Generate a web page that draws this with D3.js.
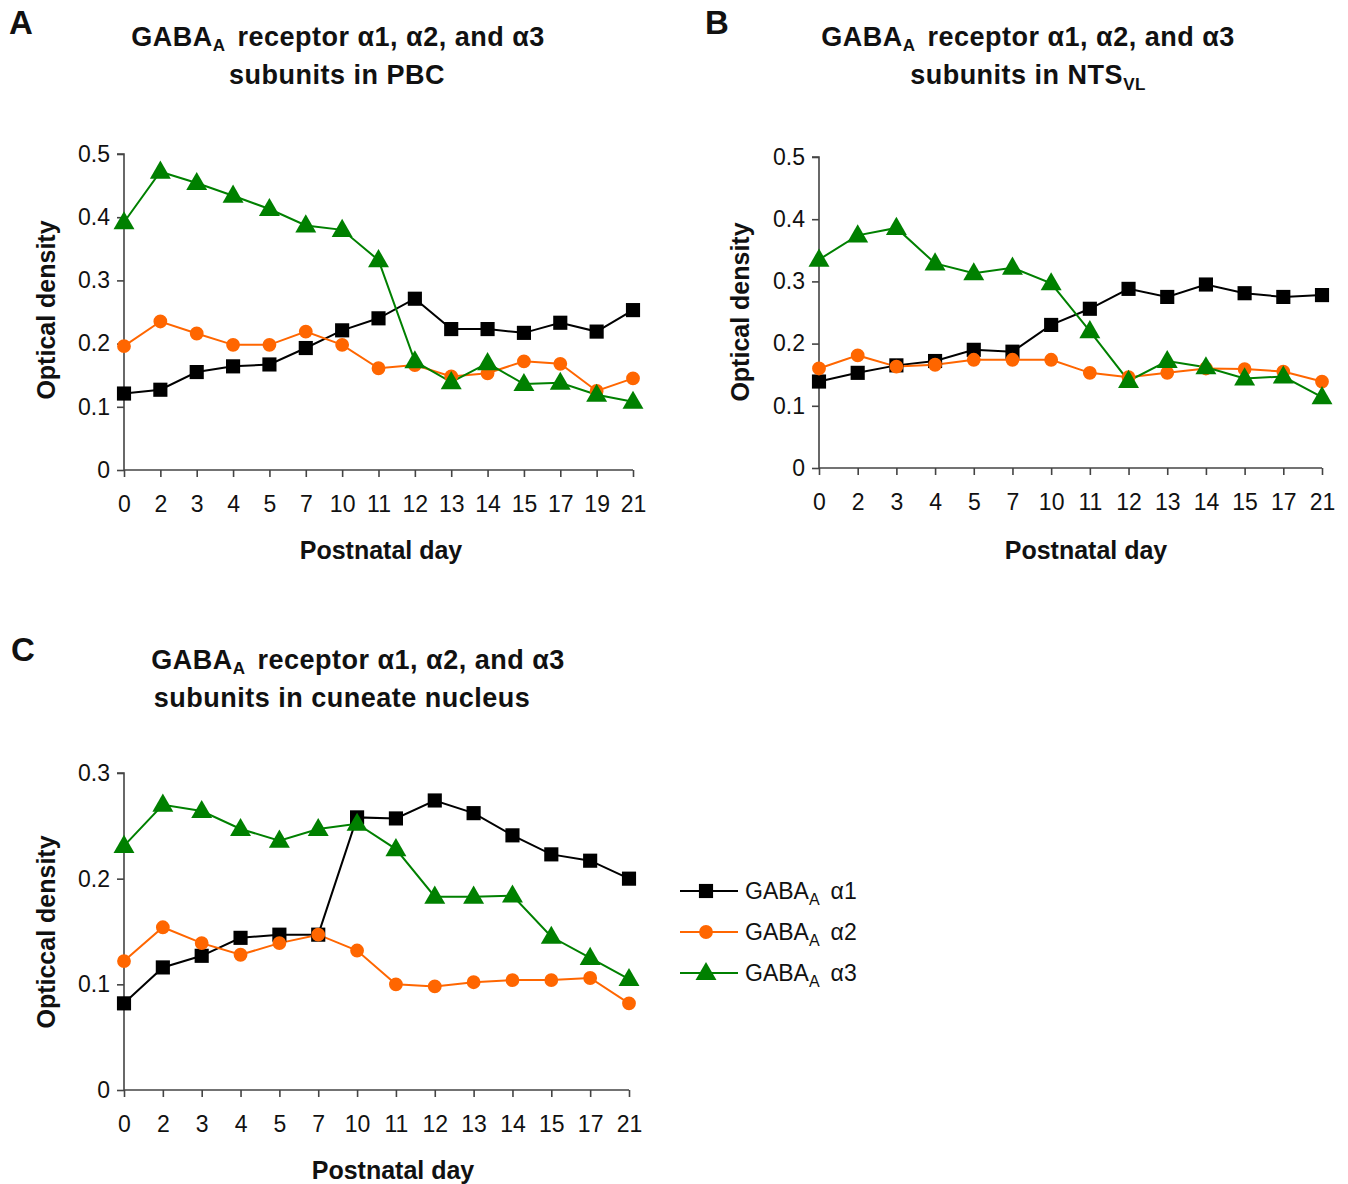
<!DOCTYPE html>
<html>
<head>
<meta charset="utf-8">
<script src="https://cdn.jsdelivr.net/npm/d3@7"></script>
<style>
  body { margin: 0; background: #fff; }
  svg text { font-family: "Liberation Sans", Arial, sans-serif; fill: #111; }
</style>
</head>
<body>
<script>
// postnatal days shown on each panel
var daysA = ["0", "2", "3", "4", "5", "7", "10", "11", "12", "13", "14", "15", "17", "19", "21"];
var daysBC = ["0", "2", "3", "4", "5", "7", "10", "11", "12", "13", "14", "15", "17", "21"];

// panel A: PBC
var pbcA1 = [0.121, 0.127, 0.155, 0.164, 0.167, 0.193, 0.221, 0.240, 0.271, 0.223, 0.223, 0.217, 0.233, 0.219, 0.253];
var pbcA2 = [0.196, 0.235, 0.216, 0.198, 0.198, 0.219, 0.198, 0.161, 0.166, 0.148, 0.153, 0.172, 0.168, 0.125, 0.145];
var pbcA3 = [0.392, 0.472, 0.454, 0.434, 0.413, 0.387, 0.380, 0.332, 0.172, 0.139, 0.169, 0.136, 0.138, 0.119, 0.108];

// panel B: NTS VL
var ntsA1 = [0.139, 0.153, 0.165, 0.172, 0.190, 0.187, 0.230, 0.256, 0.288, 0.275, 0.295, 0.281, 0.275, 0.278];
var ntsA2 = [0.160, 0.181, 0.163, 0.166, 0.174, 0.174, 0.174, 0.153, 0.146, 0.153, 0.160, 0.159, 0.155, 0.139];
var ntsA3 = [0.335, 0.374, 0.386, 0.329, 0.313, 0.322, 0.297, 0.220, 0.140, 0.172, 0.162, 0.144, 0.147, 0.114];

// panel C: cuneate nucleus
var cunA1 = [0.082, 0.116, 0.127, 0.144, 0.147, 0.147, 0.258, 0.257, 0.274, 0.262, 0.241, 0.223, 0.217, 0.200];
var cunA2 = [0.122, 0.154, 0.139, 0.128, 0.139, 0.147, 0.132, 0.100, 0.098, 0.102, 0.104, 0.104, 0.106, 0.082];
var cunA3 = [0.231, 0.270, 0.264, 0.247, 0.236, 0.247, 0.252, 0.228, 0.183, 0.183, 0.184, 0.145, 0.125, 0.105];

var ticksHalf = [0, 0.1, 0.2, 0.3, 0.4, 0.5];
var ticksThird = [0, 0.1, 0.2, 0.3];

var seriesNames = ["\u03b11", "\u03b12", "\u03b13"];
var seriesColors = ["#000000", "#ff6600", "#008000"];
var seriesShapes = [d3.symbolSquare, d3.symbolCircle, d3.symbolTriangle];
var shapeSizes = [200, 150, 190];

var svg = d3.select("body").append("svg")
    .attr("width", 1348)
    .attr("height", 1184);

//draws title with GABA subscript A, second line may carry its own subscript
function drawTitle(cx1, cx2, y, line2, sub2) {
    var t1 = svg.append("text")
        .attr("x", cx1).attr("y", y)
        .attr("text-anchor", "middle")
        .style("font-size", "27px").style("font-weight", "bold")
        .style("letter-spacing", "0.5px");
    t1.append("tspan").text("GABA");
    t1.append("tspan").attr("dy", 5).style("font-size", "17px").text("A");
    t1.append("tspan").attr("dy", -5).attr("dx", 12).text("receptor \u03b11, \u03b12, and \u03b13");

    var t2 = svg.append("text")
        .attr("x", cx2).attr("y", y + 38)
        .attr("text-anchor", "middle")
        .style("font-size", "27px").style("font-weight", "bold")
        .style("letter-spacing", "0.5px");
    t2.append("tspan").text(line2);
    if (sub2) t2.append("tspan").attr("dy", 6).style("font-size", "17px").text(sub2);
}

function drawPanel(p) {
    var x = d3.scalePoint().domain(p.days).range([p.left, p.right]);
    var y = d3.scaleLinear().domain([0, p.max]).range([p.bottom, p.top]);

    var g = svg.append("g");

    // y axis
    var yAxis = g.append("g")
        .attr("transform", `translate(${p.left},0)`)
        .call(d3.axisLeft(y).tickValues(p.ticks).tickSize(7).tickPadding(7)
            .tickFormat(d => d === 0 ? "0" : d3.format(".1f")(d)));
    // x axis
    var xAxis = g.append("g")
        .attr("transform", `translate(0,${p.bottom})`)
        .call(d3.axisBottom(x).tickSize(7).tickPadding(19));

    [yAxis, xAxis].forEach(function (a) {
        a.select(".domain").attr("stroke", "#444").attr("stroke-width", 1.6);
        a.selectAll(".tick line").attr("stroke", "#444").attr("stroke-width", 1.6);
        a.selectAll(".tick text").style("font-size", "23px").attr("fill", "#111")
            .style("font-family", "'Liberation Sans', Arial, sans-serif");
    });
    yAxis.select(".domain").attr("d", `M-7,${p.top}H0V${p.bottom}`);
    xAxis.select(".domain").attr("d", `M${p.left},0H${p.right}`);

    var line = d3.line()
        .x((d, i) => x(p.days[i]))
        .y(d => y(d));

    p.series.forEach(function (vals, k) {
        g.append("path")
            .datum(vals)
            .attr("fill", "none")
            .attr("stroke", seriesColors[k])
            .attr("stroke-width", 2)
            .attr("d", line);
    });
    p.series.forEach(function (vals, k) {
        g.selectAll(null)
            .data(vals)
            .join("path")
            .attr("transform", (d, i) => `translate(${x(p.days[i])},${y(d) + (k === 2 ? 1 : 0)})`)
            .attr("d", d3.symbol().type(seriesShapes[k]).size(shapeSizes[k]))
            .attr("fill", seriesColors[k]);
    });

    // axis titles
    svg.append("text")
        .attr("transform", `translate(${p.ytx},${p.yty}) rotate(-90)`)
        .attr("text-anchor", "middle")
        .style("font-size", "25px").style("font-weight", "bold")
        .text(p.ylabel);
    svg.append("text")
        .attr("x", p.xtx).attr("y", p.xty)
        .attr("text-anchor", "middle")
        .style("font-size", "25px").style("font-weight", "bold")
        .text("Postnatal day");

    // panel letter
    svg.append("text")
        .attr("x", p.lx).attr("y", p.ly)
        .style("font-size", "33px").style("font-weight", "bold")
        .text(p.letter);
}

drawPanel({
    days: daysA, series: [pbcA1, pbcA2, pbcA3], max: 0.5, ticks: ticksHalf,
    left: 124, right: 633, top: 154, bottom: 470,
    ylabel: "Optical density", ytx: 55, yty: 310, xtx: 381, xty: 559,
    letter: "A", lx: 9, ly: 34
});
drawPanel({
    days: daysBC, series: [ntsA1, ntsA2, ntsA3], max: 0.5, ticks: ticksHalf,
    left: 819, right: 1322, top: 157, bottom: 468,
    ylabel: "Optical density", ytx: 749, yty: 312, xtx: 1086, xty: 559,
    letter: "B", lx: 705, ly: 34
});
drawPanel({
    days: daysBC, series: [cunA1, cunA2, cunA3], max: 0.3, ticks: ticksThird,
    left: 124, right: 629, top: 773, bottom: 1090,
    ylabel: "Opticcal density", ytx: 55, yty: 932, xtx: 393, xty: 1179,
    letter: "C", lx: 11, ly: 661
});

drawTitle(338, 337, 46, "subunits in PBC");
drawTitle(1028, 1028, 46, "subunits in NTS", "VL");
drawTitle(358, 342, 669, "subunits in cuneate nucleus");

// legend
var legend = svg.append("g");
seriesNames.forEach(function (name, k) {
    var ly = 891 + k * 41;
    legend.append("line")
        .attr("x1", 680).attr("x2", 738)
        .attr("y1", ly).attr("y2", ly)
        .attr("stroke", seriesColors[k]).attr("stroke-width", 2);
    legend.append("path")
        .attr("transform", `translate(706,${ly + (k === 2 ? 1 : 0)})`)
        .attr("d", d3.symbol().type(seriesShapes[k]).size(shapeSizes[k]))
        .attr("fill", seriesColors[k]);
    var t = legend.append("text")
        .attr("x", 745).attr("y", ly + 8)
        .style("font-size", "23px");
    t.append("tspan").text("GABA");
    t.append("tspan").attr("dy", 6).style("font-size", "16px").text("A");
    t.append("tspan").attr("dy", -6).attr("dx", 11).text(name);
});
</script>
</body>
</html>
